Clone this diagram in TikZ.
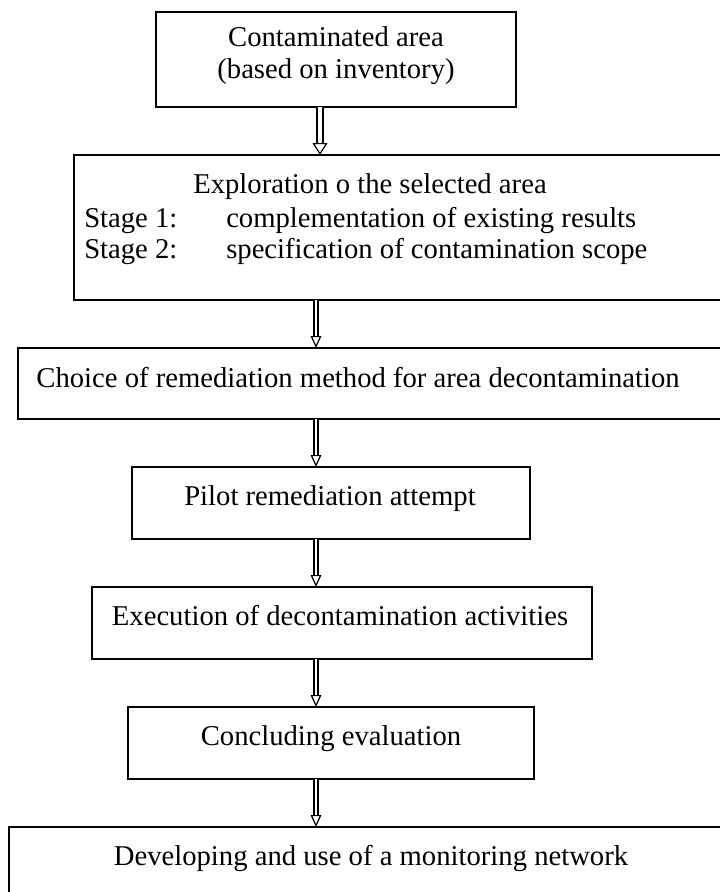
\documentclass[tikz,border=0pt]{standalone}
\usepackage{fontspec}
\setmainfont{Liberation Serif}
\usetikzlibrary{arrows.meta}
\begin{document}
\begin{tikzpicture}[x=0.75pt,y=-0.75pt,
  box/.style={draw,line width=1.5pt},
  txt/.style={anchor=base,inner sep=0pt,font=\fontsize{21.5pt}{24pt}\selectfont},
  txtl/.style={anchor=base west,inner sep=0pt,font=\fontsize{21.5pt}{24pt}\selectfont},
  flow/.style={double distance=2pt,line width=1pt,-{Triangle[open,width=8pt,length=9pt,line width=0.9pt]}},
  flowb/.style={double distance=3.5pt,line width=1pt,-{Triangle[open,width=11pt,length=9pt,line width=0.9pt]}}]
\useasboundingbox (0,0) rectangle (720,892);
% box 1
\draw[box] (156,12) rectangle (516,107);
\node[txt] (t1a) at (336,47) {Contaminated area};
\node[txt] (t1b) at (336,79) {(based on inventory)};
\coordinate (b1s) at (320,107);
\coordinate (b2n) at (320,155);
% box 2
\draw[box] (74,155) rectangle (740,300);
\node[txtl] (t2a) at (193,193) {Exploration o the selected area};
\node[txtl] (t2b) at (84,227) {Stage 1:};
\node[txtl] (t2c) at (226,227) {complementation of existing results};
\node[txtl] (t2d) at (84,258) {Stage 2:};
\node[txtl] (t2e) at (226,258) {specification of contamination scope};
\coordinate (b2s) at (316,300);
\coordinate (b3n) at (316,348);
% box 3
\draw[box] (18,348) rectangle (740,419);
\node[txt] (t3) at (358,387) {Choice of remediation method for area decontamination};
\coordinate (b3s) at (316,419);
\coordinate (b4n) at (316,467);
% box 4
\draw[box] (132,467) rectangle (530,539);
\node[txt] (t4) at (330,505) {Pilot remediation attempt};
\coordinate (b4s) at (316,539);
\coordinate (b5n) at (316,587);
% box 5
\draw[box] (92,587) rectangle (592,659);
\node[txt] (t5) at (340,625) {Execution of decontamination activities};
\coordinate (b5s) at (316,659);
\coordinate (b6n) at (316,707);
% box 6
\draw[box] (128,707) rectangle (534,779);
\node[txt] (t6) at (331,745) {Concluding evaluation};
\coordinate (b6s) at (316,779);
\coordinate (b7n) at (316,827);
% box 7
\draw[box] (9,827) rectangle (740,920);
\node[txt] (t7) at (371,865) {Developing and use of a monitoring network};
% arrows
\draw[flowb] (b1s) -- (b2n);
\draw[flow] (b2s) -- (b3n);
\draw[flow] (b3s) -- (b4n);
\draw[flow] (b4s) -- (b5n);
\draw[flow] (b5s) -- (b6n);
\draw[flow] (b6s) -- (b7n);
\end{tikzpicture}
\end{document}
